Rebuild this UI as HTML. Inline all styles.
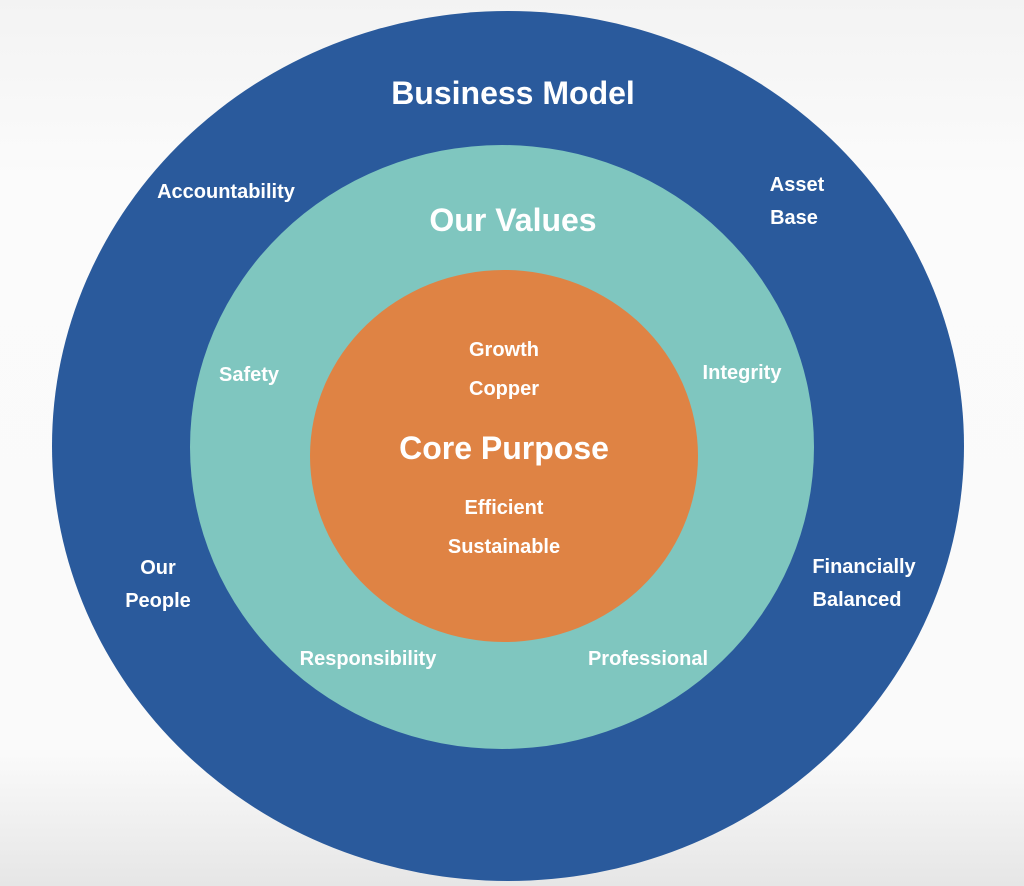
<!DOCTYPE html>
<html><head><style>
body{margin:0;width:1024px;height:886px;overflow:hidden;background:linear-gradient(#f3f3f3,#fbfbfb 20%,#fafafa 85%,#e6e6e6);font-family:"Liberation Sans",sans-serif;}
</style></head><body>
<svg width="1024" height="886" xmlns="http://www.w3.org/2000/svg" style="position:absolute;left:0;top:0">
<ellipse cx="508" cy="446" rx="456" ry="435" fill="#2a5a9c"/>
<ellipse cx="502" cy="447" rx="312" ry="302" fill="#7fc6bf"/>
<ellipse cx="504" cy="456" rx="194" ry="186" fill="#df8344"/>
<g fill="#fff" font-family="Liberation Sans, sans-serif" font-weight="bold" text-anchor="middle">
<text x="513" y="104" font-size="32">Business Model</text>
<text x="226" y="198" font-size="20">Accountability</text>
<text x="797" y="191" font-size="20">Asset</text>
<text x="794" y="224" font-size="20">Base</text>
<text x="513" y="231" font-size="32">Our Values</text>
<text x="249" y="381" font-size="20">Safety</text>
<text x="742" y="379" font-size="20">Integrity</text>
<text x="504" y="356" font-size="20">Growth</text>
<text x="504" y="395" font-size="20">Copper</text>
<text x="504" y="459" font-size="32">Core Purpose</text>
<text x="504" y="514" font-size="20">Efficient</text>
<text x="504" y="553" font-size="20">Sustainable</text>
<text x="158" y="574" font-size="20">Our</text>
<text x="158" y="607" font-size="20">People</text>
<text x="864" y="573" font-size="20">Financially</text>
<text x="857" y="606" font-size="20">Balanced</text>
<text x="368" y="665" font-size="20">Responsibility</text>
<text x="648" y="665" font-size="20">Professional</text>
</g>
</svg>
</body></html>
